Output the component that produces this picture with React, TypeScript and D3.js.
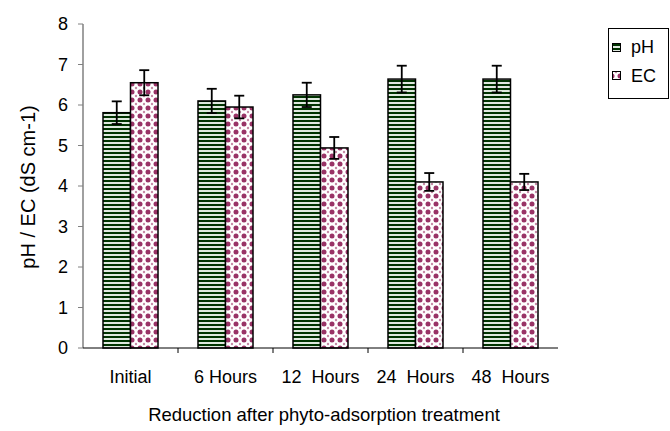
import * as React from 'react';
import * as d3 from 'd3';

const categories = ['Initial', '6 Hours', '12  Hours', '24  Hours', '48  Hours'];
const phValues = [5.81, 6.1, 6.25, 6.64, 6.64];
const phErrors = [0.28, 0.3, 0.3, 0.33, 0.33];
const ecValues = [6.55, 5.95, 4.94, 4.1, 4.1];
const ecErrors = [0.31, 0.28, 0.27, 0.22, 0.2];
const yTicks = [0, 1, 2, 3, 4, 5, 6, 7, 8];

const W = 670;
const H = 431;
const left = 83;
const right = 558;
const top = 24;
const bottom = 348;
const font = 'Liberation Sans, Arial, sans-serif';

export default function App() {
  const x = d3.scaleBand<string>().domain(categories).range([left, right]).paddingInner(0).paddingOuter(0);
  const y = d3.scaleLinear().domain([0, 8]).range([bottom, top]);
  const barW = 27.5;

  const series = [
    { name: 'pH', values: phValues, errors: phErrors, fill: 'url(#stripes)', off: -barW },
    { name: 'EC', values: ecValues, errors: ecErrors, fill: 'url(#dots)', off: 0 },
  ];

  return (
    <svg width={W} height={H} style={{ position: 'absolute', left: 0, top: 0, background: '#fff' }}>
      <defs>
        <pattern id="stripes" patternUnits="userSpaceOnUse" width={8} height={4}>
          <rect width={8} height={4} fill="#dfe8df" />
          <rect y={0} width={8} height={2} fill="#003300" />
        </pattern>
        <pattern id="dots" patternUnits="userSpaceOnUse" width={8} height={8}>
          <rect width={8} height={8} fill="#fff" />
          <circle cx={4} cy={4} r={2.5} fill="#993366" />
          <circle cx={0} cy={0} r={1.2} fill="#c58aa6" />
          <circle cx={8} cy={0} r={1.2} fill="#c58aa6" />
          <circle cx={0} cy={8} r={1.2} fill="#c58aa6" />
          <circle cx={8} cy={8} r={1.2} fill="#c58aa6" />
        </pattern>
      </defs>

      {/* y axis */}
      <line x1={left} x2={left} y1={top} y2={bottom} stroke="#808080" strokeWidth={1.5} />
      {yTicks.map(t => (
        <g key={t}>
          <line x1={left - 5} x2={left} y1={y(t)} y2={y(t)} stroke="#808080" />
          <text x={left - 15} y={y(t) + 6} textAnchor="end" fontFamily={font} fontSize={18} fill="#000">{t}</text>
        </g>
      ))}

      {/* bars */}
      {series.map(s =>
        categories.map((c, i) => {
          const cx = x(c)! + x.bandwidth() / 2 + s.off;
          const v = s.values[i];
          const e = s.errors[i];
          const mid = cx + barW / 2;
          return (
            <g key={s.name + c}>
              <rect x={cx} y={y(v)} width={barW} height={bottom - y(v)} fill={s.fill} stroke="#000" strokeWidth={1.5} />
              <line x1={mid} x2={mid} y1={y(v + e)} y2={y(v - e)} stroke="#000" strokeWidth={1.8} />
              <line x1={mid - 5} x2={mid + 5} y1={y(v + e)} y2={y(v + e)} stroke="#000" strokeWidth={1.8} />
              <line x1={mid - 5} x2={mid + 5} y1={y(v - e)} y2={y(v - e)} stroke="#000" strokeWidth={1.8} />
            </g>
          );
        })
      )}

      {/* x axis */}
      <line x1={left} x2={right} y1={bottom} y2={bottom} stroke="#000" strokeWidth={1} />
      {categories.slice(1).map(c => (
        <line key={c} x1={x(c)!} x2={x(c)!} y1={bottom} y2={bottom + 5} stroke="#000" />
      ))}
      {categories.map(c => (
        <text key={c} x={x(c)! + x.bandwidth() / 2} y={383} textAnchor="middle" fontFamily={font} fontSize={18} fill="#000" style={{ whiteSpace: 'pre' }}>{c}</text>
      ))}

      <text x={324} y={421} textAnchor="middle" fontFamily={font} fontSize={18.5} fill="#000">Reduction after phyto-adsorption treatment</text>
      <text transform={`translate(35, ${(top + bottom) / 2 + 1}) rotate(-90)`} textAnchor="middle" fontFamily={font} fontSize={20} fill="#000">pH / EC (dS cm-1)</text>

      {/* legend */}
      <rect x={608.5} y={28.5} width={60} height={70} fill="#fff" stroke="#000" />
      <rect x={612.5} y={43.5} width={8} height={8} fill="url(#stripes)" stroke="#000" />
      <text x={631} y={53} fontFamily={font} fontSize={18} fill="#000">pH</text>
      <rect x={612.5} y={71.5} width={8} height={8} fill="url(#dots)" stroke="#000" />
      <text x={631} y={82} fontFamily={font} fontSize={18} fill="#000">EC</text>
    </svg>
  );
}
